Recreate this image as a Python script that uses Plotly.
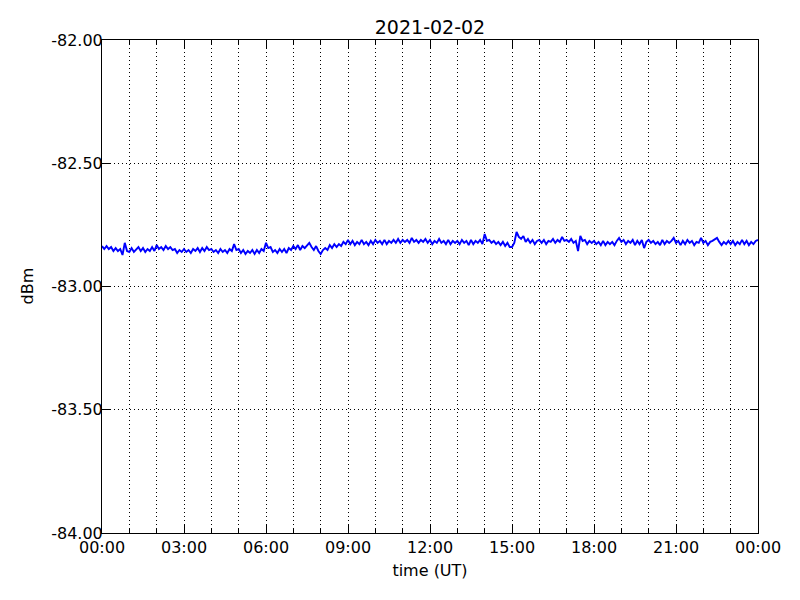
import pandas as pd
import plotly.graph_objects as go

title = "2021-02-02"
x_label = "time (UT)"
y_label = "dBm"
y_ticks = [-84.0, -83.5, -83.0, -82.5, -82.0]
y_tick_text = [f"{v:.2f}" for v in y_ticks]

# 5-minute samples over the day, dBm (one row per hour)
dbm = [
    -82.836,-82.848,-82.836,-82.848,-82.840,-82.856,-82.844,-82.856,-82.848,-82.872,-82.823,-82.856,
    -82.860,-82.844,-82.860,-82.848,-82.840,-82.856,-82.844,-82.860,-82.848,-82.856,-82.840,-82.856,
    -82.832,-82.848,-82.840,-82.852,-82.836,-82.848,-82.840,-82.852,-82.848,-82.864,-82.852,-82.860,
    -82.848,-82.860,-82.852,-82.864,-82.848,-82.856,-82.844,-82.860,-82.844,-82.856,-82.840,-82.852,
    -82.848,-82.860,-82.852,-82.864,-82.848,-82.860,-82.852,-82.864,-82.848,-82.856,-82.828,-82.852,
    -82.848,-82.864,-82.852,-82.868,-82.856,-82.864,-82.852,-82.868,-82.852,-82.864,-82.848,-82.856,
    -82.823,-82.844,-82.840,-82.860,-82.852,-82.864,-82.848,-82.860,-82.848,-82.864,-82.844,-82.852,
    -82.836,-82.848,-82.832,-82.852,-82.836,-82.844,-82.832,-82.823,-82.840,-82.852,-82.836,-82.856,
    -82.868,-82.852,-82.844,-82.852,-82.832,-82.844,-82.828,-82.840,-82.828,-82.836,-82.819,-82.828,
    -82.811,-82.828,-82.815,-82.832,-82.819,-82.828,-82.811,-82.828,-82.819,-82.832,-82.815,-82.828,
    -82.811,-82.823,-82.815,-82.828,-82.811,-82.828,-82.815,-82.823,-82.811,-82.823,-82.807,-82.823,
    -82.811,-82.819,-82.811,-82.823,-82.803,-82.819,-82.811,-82.823,-82.811,-82.819,-82.807,-82.823,
    -82.811,-82.828,-82.815,-82.823,-82.807,-82.823,-82.815,-82.828,-82.811,-82.828,-82.815,-82.823,
    -82.815,-82.828,-82.811,-82.823,-82.815,-82.832,-82.811,-82.828,-82.815,-82.823,-82.811,-82.828,
    -82.787,-82.815,-82.811,-82.823,-82.815,-82.828,-82.819,-82.832,-82.819,-82.836,-82.823,-82.840,
    -82.840,-82.823,-82.779,-82.799,-82.807,-82.795,-82.819,-82.807,-82.823,-82.811,-82.828,-82.815,
    -82.811,-82.823,-82.811,-82.828,-82.815,-82.819,-82.807,-82.823,-82.811,-82.819,-82.799,-82.815,
    -82.811,-82.819,-82.807,-82.823,-82.815,-82.856,-82.795,-82.815,-82.811,-82.828,-82.815,-82.823,
    -82.815,-82.828,-82.819,-82.832,-82.815,-82.832,-82.819,-82.828,-82.819,-82.832,-82.815,-82.803,
    -82.819,-82.811,-82.828,-82.815,-82.823,-82.811,-82.832,-82.815,-82.828,-82.811,-82.844,-82.819,
    -82.811,-82.823,-82.815,-82.828,-82.819,-82.832,-82.811,-82.828,-82.815,-82.823,-82.815,-82.803,
    -82.823,-82.815,-82.832,-82.815,-82.828,-82.811,-82.823,-82.815,-82.832,-82.819,-82.823,-82.803,
    -82.823,-82.815,-82.832,-82.819,-82.815,-82.807,-82.803,-82.819,-82.832,-82.819,-82.828,-82.815,
    -82.828,-82.815,-82.832,-82.819,-82.828,-82.811,-82.828,-82.815,-82.832,-82.819,-82.828,-82.815,
    -82.811,
]
times = pd.date_range("2021-02-02 00:00", periods=len(dbm), freq="5min")

font_family = "DejaVu Sans"
fig = go.Figure(go.Scatter(x=times, y=dbm, mode="lines",
                           line=dict(color="#0000ff", width=1.9)))

HOUR = 3600000
GRID_DASH = "1px,3px"
PLOT_L, PLOT_W = 102, 656
fig.update_layout(
    width=800, height=600,
    margin=dict(l=94, r=50, t=32, b=75),
    paper_bgcolor="white", plot_bgcolor="white",
    showlegend=False,
    font=dict(family=font_family, size=16, color="black"),
    title=dict(text=title, x=94 / 800 + 0.5 * 656 / 800, xanchor="center",
               y=1 - 19 / 600, yanchor="middle",
               font=dict(size=19, family=font_family)),
    annotations=[dict(text=y_label, xref="paper", yref="paper",
                      x=(27 - PLOT_L) / PLOT_W, y=0.5, xanchor="center", yanchor="middle",
                      textangle=-90, showarrow=False, font=dict(size=16))],
)
fig.update_xaxes(
    range=["2021-02-02 00:00", "2021-02-03 00:00"],
    dtick=3 * HOUR, tick0="2021-02-02 00:00", tickformat="%H:%M",
    ticks="inside", ticklen=8, tickcolor="black", tickwidth=1,
    showline=True, linecolor="black", linewidth=1, mirror="allticks",
    showgrid=True, gridcolor="black", griddash=GRID_DASH, gridwidth=1,
    zeroline=False,
    minor=dict(dtick=HOUR, ticks="inside", ticklen=4, tickcolor="black",
               showgrid=True, gridcolor="black", griddash=GRID_DASH, gridwidth=1),
    title=dict(text=x_label, standoff=8, font=dict(size=16)),
    tickfont=dict(size=16),
    ticklabelstandoff=0,
)
fig.update_yaxes(
    range=[-84, -82], tickvals=y_ticks, ticktext=y_tick_text,
    ticks="inside", ticklen=8, tickcolor="black", tickwidth=1,
    showline=True, linecolor="black", linewidth=1, mirror="ticks",
    showgrid=True, gridcolor="black", griddash=GRID_DASH, gridwidth=1,
    zeroline=False,
    tickfont=dict(size=16),
    ticklabelstandoff=-5,
)
fig.write_html("out.html")
